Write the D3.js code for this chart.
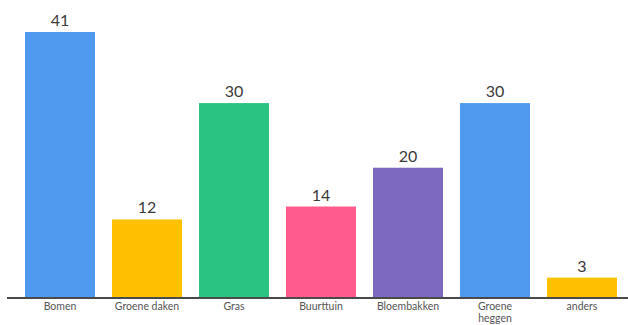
<!DOCTYPE html>
<html>
<head>
<meta charset="utf-8">
<script src="https://cdn.jsdelivr.net/npm/d3@7"></script>
<style>
  html, body { margin: 0; padding: 0; background: #fff; }
  svg { display: block; font-family: "Lato", "Noto Sans", sans-serif; }
</style>
</head>
<body>
<svg id="chart" width="628" height="325"></svg>
<script>
// ---------- DATA ----------
const categories = ["Bomen", "Groene daken", "Gras", "Buurttuin", "Bloembakken", "Groene heggen", "anders"];
const counts = [41, 12, 30, 14, 20, 30, 3];
const barColors = ["#4f99ef", "#ffc101", "#2bc381", "#ff5b8c", "#7e69c0", "#4f99ef", "#ffc101"];

// ---------- LAYOUT ----------
const W = 628, H = 325;
const baseY = 297, topY = 32;
const svg = d3.select("#chart");

const x = d3.scaleBand()
  .domain(categories)
  .range([8, 634])
  .paddingInner(17 / 87)
  .paddingOuter(17 / 87)
  .align(0.5);

const y = d3.scaleLinear().domain([0, 41]).range([baseY, topY]);

// bars
svg.selectAll("rect.bar")
  .data(categories)
  .join("rect")
  .attr("class", "bar")
  .attr("x", d => x(d))
  .attr("width", x.bandwidth())
  .attr("y", (d, i) => y(counts[i]))
  .attr("height", (d, i) => baseY - y(counts[i]))
  .attr("fill", (d, i) => barColors[i]);

// value labels
svg.selectAll("text.val")
  .data(categories)
  .join("text")
  .attr("class", "val")
  .attr("x", d => x(d) + x.bandwidth() / 2)
  .attr("y", (d, i) => y(counts[i]) - 6)
  .attr("text-anchor", "middle")
  .attr("font-size", 16)
  .attr("fill", "#3a3a3a")
  .text((d, i) => counts[i]);

// baseline
svg.append("line")
  .attr("x1", 7).attr("x2", W)
  .attr("y1", baseY + 1).attr("y2", baseY + 1)
  .attr("stroke", "#4a4a4a")
  .attr("stroke-width", 2);

// category labels (wrapped for "Groene heggen")
const wrapped = { "Groene heggen": ["Groene", "heggen"] };
svg.selectAll("text.cat")
  .data(categories)
  .join("text")
  .attr("class", "cat")
  .attr("text-anchor", "middle")
  .attr("font-size", 10.5)
  .attr("fill", "#555")
  .each(function(d) {
    const lines = wrapped[d] || [d];
    d3.select(this).selectAll("tspan")
      .data(lines)
      .join("tspan")
      .attr("x", x(d) + x.bandwidth() / 2)
      .attr("y", (l, j) => 310 + j * 12)
      .text(l => l);
  });
</script>
</body>
</html>
